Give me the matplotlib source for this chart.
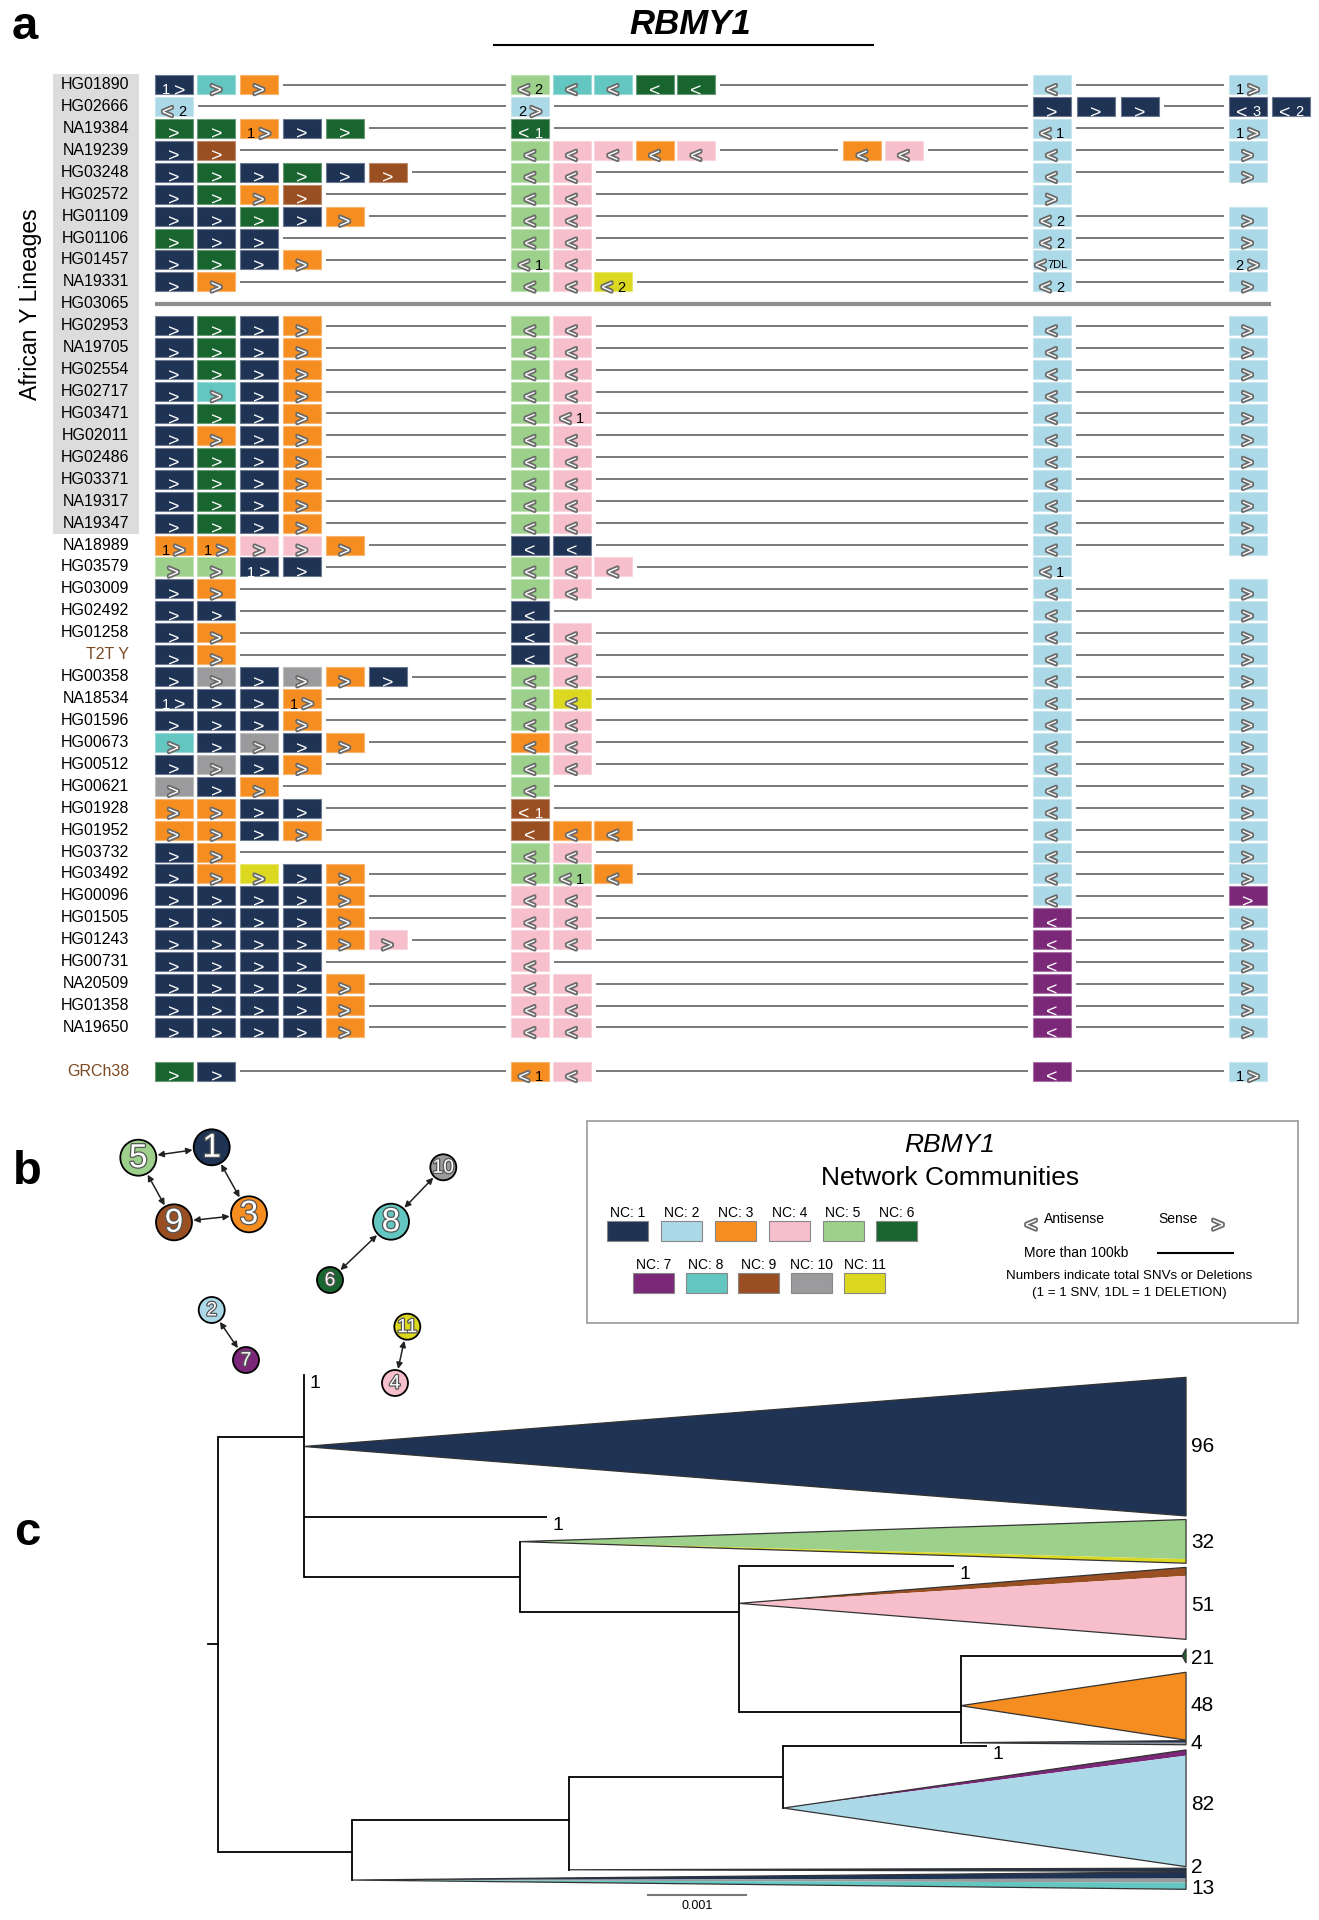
import matplotlib
matplotlib.use("Agg")
import matplotlib.pyplot as plt
import matplotlib.patheffects as pe
from matplotlib.patches import Rectangle, Circle, Polygon, FancyArrowPatch
from matplotlib.colors import to_rgb

plt.rcParams['font.family'] = ['Liberation Sans', 'DejaVu Sans']

W, H = 1319, 1920

# ---- network community colours ----
nc_colors = {1: '#1f3354', 2: '#acd9e7', 3: '#f68d20', 4: '#f6bfcb', 5: '#9dd18b', 6: '#19652f',
             7: '#7b2878', 8: '#63c6c0', 9: '#9a4f22', 10: '#9b9b9d', 11: '#dcd820'}
dark_nc = {1, 6, 7, 9}

# ---- panel a data: one token per box "<NC><direction><annotation>", "-" = gap ----
samples = ['HG01890', 'HG02666', 'NA19384', 'NA19239', 'HG03248', 'HG02572', 'HG01109', 'HG01106',
           'HG01457', 'NA19331', 'HG03065', 'HG02953', 'NA19705', 'HG02554', 'HG02717', 'HG03471',
           'HG02011', 'HG02486', 'HG03371', 'NA19317', 'NA19347', 'NA18989', 'HG03579', 'HG03009',
           'HG02492', 'HG01258', 'T2T Y', 'HG00358', 'NA18534', 'HG01596', 'HG00673', 'HG00512',
           'HG00621', 'HG01928', 'HG01952', 'HG03732', 'HG03492', 'HG00096', 'HG01505', 'HG01243',
           'HG00731', 'NA20509', 'HG01358', 'NA19650', 'GRCh38']
african = samples[:21]
brown_labels = ['T2T Y', 'GRCh38']
deleted = ['HG03065']

left_block = [
    "1>1 8> 3>", "2<2", "6> 6> 3>1 1> 6>", "1> 9>", "1> 6> 1> 6> 1> 9>", "1> 6> 3> 9>",
    "1> 1> 6> 1> 3>", "6> 1> 1>", "1> 6> 1> 3>", "1> 3>", "",
    "1> 6> 1> 3>", "1> 6> 1> 3>", "1> 6> 1> 3>", "1> 8> 1> 3>", "1> 6> 1> 3>",
    "1> 3> 1> 3>", "1> 6> 1> 3>", "1> 6> 1> 3>", "1> 6> 1> 3>", "1> 6> 1> 3>",
    "3>1 3>1 4> 4> 3>", "5> 5> 1>1 1>", "1> 3>", "1> 1>", "1> 3>", "1> 3>",
    "1> 10> 1> 10> 3> 1>", "1>1 1> 1> 3>1", "1> 1> 1> 3>", "8> 1> 10> 1> 3>", "1> 10> 1> 3>",
    "10> 1> 3>", "3> 3> 1> 1>", "3> 3> 1> 3>", "1> 3>", "1> 3> 11> 1> 3>",
    "1> 1> 1> 1> 3>", "1> 1> 1> 1> 3>", "1> 1> 1> 1> 3> 4>", "1> 1> 1> 1>",
    "1> 1> 1> 1> 3>", "1> 1> 1> 1> 3>", "1> 1> 1> 1> 3>", "6> 1>"]

mid_block = [
    "5<2 8< 8< 6< 6<", "2>2", "6<1", "5< 4< 4< 3< 4< - - - 3< 4<", "5< 4<", "5< 4<",
    "5< 4<", "5< 4<", "5<1 4<", "5< 4< 11<2", "",
    "5< 4<", "5< 4<", "5< 4<", "5< 4<", "5< 4<1",
    "5< 4<", "5< 4<", "5< 4<", "5< 4<", "5< 4<",
    "1< 1<", "5< 4< 4<", "5< 4<", "1<", "1< 4<", "1< 4<",
    "5< 4<", "5< 11<", "5< 4<", "3< 4<", "5< 4<",
    "5<", "9<1", "9< 3< 3<", "5< 4<", "5< 5<1 3<",
    "4< 4<", "4< 4<", "4< 4<", "4<",
    "4< 4<", "4< 4<", "4< 4<", "3<1 4<"]

right1_block = (["2<", "1> 1> 1>", "2<1", "2<", "2<", "2>", "2<2", "2<2", "2<7DL", "2<2", ""]
                + ["2<"] * 10 + ["2<", "2<1"] + ["2<"] * 14 + ["2<"] + ["7<"] * 6 + ["7<"])

right2_block = (["2>1", "1<3 1<2", "2>1", "2>", "2>", "", "2>", "2>", "2>2", "2>", ""]
                + ["2>"] * 10 + ["2>", ""] + ["2>"] * 14 + ["7>"] + ["2>"] * 6 + ["2>1"])

# ---- panel b data ----
nc_ids = list(range(1, 12))
network_edges = [(5, 1), (1, 3), (3, 9), (9, 5), (8, 10), (8, 6), (2, 7), (11, 4)]
big_nodes = [1, 3, 5, 8, 9]

# ---- panel c data: distances in units of 0.001 subst/site ----
node_names = ['root', 'A', 'B', 'C', 'D', 'E', 'F', 'G']
node_dist = [0.0, 0.875, 3.08, 5.32, 7.58, 1.37, 3.58, 5.77]
node_y = [52.4, 12.0, 39.2, 46.0, 65.5, 92.7, 86.6, 78.2]
node_parent = [None, 'root', 'A', 'B', 'C', 'root', 'E', 'F']

leaf_parent = ['A', 'A', 'C', 'G']
leaf_dist = [0.875, 3.36, 7.51, 7.85]
leaf_y = [0.0, 27.6, 37.1, 72.1]
leaf_label = ['1', '1', '1', '1']

clade_parent = ['A', 'B', 'C', 'D', 'D', 'D', 'G', 'F', 'E']
clade_count = [96, 32, 51, 21, 48, 4, 82, 2, 13]
clade_apex_y = [13.9, 32.4, 44.4, 54.6, 64.3, 71.5, 84.2, 96.2, 98.2]
clade_top = [0.45, 28.1, 37.4, 53.2, 57.8, 71.1, 72.9, 95.9, 96.6]
clade_bottom = [27.4, 36.6, 51.4, 56.0, 71.0, 71.9, 95.6, 96.5, 100.0]
clade_stem = [None, None, None, 9.84, None, None, None, None, None]
clade_mix = [[(1, 96)], [(5, 29), (11, 3)], [(9, 6), (4, 45)], [(6, 21)], [(3, 48)],
             [(1, 2), (10, 2)], [(7, 4), (2, 78)], [(1, 2)], [(1, 5), (10, 3), (8, 5)]]
clade_label_y = [13.9, 32.6, 44.9, 55.2, 64.3, 71.6, 83.6, 95.8, 99.8]
tip_dist = 9.88
scale_len = 1.0

# ================= figure =================
fig = plt.figure(figsize=(W / 100, H / 100), dpi=100)
ax = fig.add_axes([0, 0, 1, 1])
ax.set_xlim(0, W)
ax.set_ylim(H, 0)
ax.axis('off')


def lighten(c, f=0.35):
    r, g, b = to_rgb(c)
    return (r + (1 - r) * f, g + (1 - g) * f, b + (1 - b) * f)


def parse(block):
    out = []
    for tok in block.split():
        if tok == '-':
            out.append(None)
            continue
        i = 0
        while tok[i].isdigit():
            i += 1
        out.append((int(tok[:i]), tok[i], tok[i + 1:]))
    return out


row_y0, row_pitch = 84.5, 21.93
bw, bh = 38, 19
blocks = [(left_block, 154.5, 42.8), (mid_block, 511.0, 41.5),
          (right1_block, 1032.5, 44.3), (right2_block, 1228.6, 43.4)]
outline = [pe.withStroke(linewidth=2.6, foreground='#6a6a6a')]


def draw_box(xl, yc, nc, d, lab):
    col = nc_colors[nc]
    dark = nc in dark_nc
    ax.add_patch(Rectangle((xl, yc - bh / 2), bw, bh, fc=col, ec=lighten(col), lw=0.8))
    xc = xl + bw / 2
    akw = dict(color='white', fontsize=14, ha='center', va='center_baseline')
    if not dark:
        akw['path_effects'] = outline
    ncol = 'white' if dark else 'black'
    ya = yc + 5
    na = yc + 4.5
    if lab == '':
        ax.text(xc, ya, d, **akw)
    elif d == '>':
        ax.text(xc - 8, na, lab, color=ncol, fontsize=10.5, ha='center', va='center_baseline')
        ax.text(xc + 6, ya, d, **akw)
    elif len(lab) > 1:
        ax.text(xc - 11, ya, d, **akw)
        ax.text(xc + 6, na, lab, color=ncol, fontsize=8, ha='center', va='center_baseline')
    else:
        ax.text(xc - 6, ya, d, **akw)
        ax.text(xc + 8.5, na, lab, color=ncol, fontsize=10.5, ha='center', va='center_baseline')


# label background for African lineages
ax.add_patch(Rectangle((52.6, row_y0 - row_pitch / 2), 86.3, row_pitch * len(african),
                       fc='#dcdcdc', ec='none'))
ax.text(30.6, row_y0 + row_pitch * (len(african) - 1) / 2, 'African Y Lineages',
        rotation=90, ha='center', va='center', fontsize=16.5)

for i, name in enumerate(samples):
    r = i if name != 'GRCh38' else i + 1
    yc = row_y0 + r * row_pitch
    ax.text(129, yc, name, ha='right', va='center', fontsize=11.5,
            color='#7b4a23' if name in brown_labels else 'black')
    if name in deleted:
        ax.plot([154.5, 1271], [yc, yc], color='#8e8e8e', lw=3, solid_capstyle='butt')
        continue
    extents = []
    for blk, x0, pitch in blocks:
        for k, tok in enumerate(parse(blk[i])):
            if tok is None:
                continue
            xl = x0 + k * pitch
            draw_box(xl, yc, *tok)
            extents.append((xl, xl + bw))
    extents.sort()
    for (a0, a1), (b0, b1) in zip(extents[:-1], extents[1:]):
        if b0 - a1 > 12:
            ax.plot([a1 + 5, b0 - 5], [yc, yc], color='#7a7a7a', lw=1.4, solid_capstyle='butt')

# title
ax.text(690, 24.5, 'RBMY1', fontsize=25, fontweight='bold', fontstyle='italic',
        ha='center', va='center')
ax.plot([493.6, 873.2], [45.3, 45.3], color='black', lw=1.5)

for lbl, (lx, ly) in zip('abc', [(24.5, 27), (27, 1172), (27, 1533)]):
    ax.text(lx, ly, lbl, fontsize=34, fontweight='bold', ha='center', va='center')

# ================= panel b: network =================
node_pos = {5: (138.3, 1157.7), 1: (211.7, 1147.3), 3: (249.0, 1214.3), 9: (174.0, 1222.3),
            8: (391.0, 1221.7), 10: (443.3, 1167.3), 6: (330.0, 1280.0), 2: (211.7, 1310.0),
            7: (246.0, 1360.0), 11: (407.3, 1326.7), 4: (395.0, 1383.0)}


def node_r(n):
    return 18 if n in big_nodes else 13


for a, b in network_edges:
    arr = FancyArrowPatch(node_pos[a], node_pos[b], arrowstyle='<|-|>', mutation_scale=9,
                          color='#222222', lw=1.1,
                          shrinkA=node_r(a) * 0.72 + 1, shrinkB=node_r(b) * 0.72 + 1)
    ax.add_patch(arr)

for n in nc_ids:
    x, y = node_pos[n]
    ax.add_patch(Circle((x, y), node_r(n), fc=nc_colors[n], ec='black', lw=1.3, zorder=3))
    ax.text(x, y + 1, str(n), fontsize=24 if n in big_nodes else 14, color='white',
            ha='center', va='center', zorder=4,
            path_effects=[pe.withStroke(linewidth=1.8, foreground='#555555')])

# legend box
ax.add_patch(Rectangle((586.6, 1120.6), 711.4, 202.1, fc='white', ec='#9a9a9a', lw=1.2))
ax.text(950, 1145, 'RBMY1', fontsize=19, fontstyle='italic', ha='center', va='center')
ax.text(950, 1178, 'Network Communities', fontsize=19, ha='center', va='center')
for j, n in enumerate(nc_ids):
    if n <= 6:
        sx, sy = 607.4 + j * 53.8, 1221
    else:
        sx, sy = 632.8 + (j - 6) * 52.8, 1273
    ax.add_patch(Rectangle((sx, sy), 41, 20, fc=nc_colors[n], ec='#888888', lw=0.8))
    ax.text(sx + 20.5, sy - 8, 'NC: %d' % n, fontsize=10, ha='center', va='center')

ax.text(1031, 1224, '<', fontsize=15, color='white', ha='center', va='center_baseline',
        path_effects=outline)
ax.text(1044, 1219, 'Antisense', fontsize=10, ha='left', va='center')
ax.text(1198, 1219, 'Sense', fontsize=10, ha='right', va='center')
ax.text(1218, 1224, '>', fontsize=15, color='white', ha='center', va='center_baseline',
        path_effects=outline)
ax.text(1024, 1253, 'More than 100kb', fontsize=10, ha='left', va='center')
ax.plot([1158, 1233], [1253, 1253], color='black', lw=1.5)
ax.text(1129.5, 1275.7, 'Numbers indicate total SNVs or Deletions', fontsize=9.6,
        ha='center', va='center')
ax.text(1129.5, 1292.7, '(1 = 1 SNV, 1DL = 1 DELETION)', fontsize=9.6, ha='center', va='center')

# ================= panel c: tree =================
kx, x0px = 98.0, 217.8
ky, y0px = 5.143, 1375.0
axc = fig.add_axes([0, 0, 1, 1], facecolor='none')
axc.set_xlim(-x0px / kx, (W - x0px) / kx)
axc.set_ylim((H - y0px) / ky, -y0px / ky)
axc.axis('off')

nd = {n: (d, y) for n, d, y in zip(node_names, node_dist, node_y)}
child_y = {n: [] for n in node_names}
for n, p in zip(node_names, node_parent):
    if p:
        child_y[p].append(nd[n][1])
        axc.plot([nd[p][0], nd[n][0]], [nd[n][1], nd[n][1]], color='black', lw=1.3,
                 solid_capstyle='butt')
for p, d, y, lab in zip(leaf_parent, leaf_dist, leaf_y, leaf_label):
    child_y[p].append(y)
    axc.plot([nd[p][0], d], [y, y], color='black', lw=1.3, solid_capstyle='butt')
    axc.text(d + 0.06, y + 1.6, lab, fontsize=14, ha='left', va='center')
for p, ay in zip(clade_parent, clade_apex_y):
    child_y[p].append(ay)
for n in node_names:
    ys = child_y[n]
    axc.plot([nd[n][0], nd[n][0]], [min(ys), max(ys)], color='black', lw=1.3)
# root stub
axc.plot([-0.104, 0], [nd['root'][1], nd['root'][1]], color='black', lw=1.3)

for p, cnt, ay, top, bot, stem, mix, ly in zip(clade_parent, clade_count, clade_apex_y,
                                                  clade_top, clade_bottom, clade_stem,
                                                  clade_mix, clade_label_y):
    ax0 = nd[p][0]
    if stem is not None:
        axc.plot([ax0, stem], [ay, ay], color='black', lw=1.3, solid_capstyle='butt')
        ax0 = stem
    total = sum(c for _, c in mix)
    yy = top
    for nc, c in mix:
        y2 = yy + (bot - top) * c / total
        axc.add_patch(Polygon([(ax0, ay), (tip_dist, yy), (tip_dist, y2)], closed=True,
                              fc=nc_colors[nc], ec='none'))
        yy = y2
    axc.add_patch(Polygon([(ax0, ay), (tip_dist, top), (tip_dist, bot)], closed=True,
                          fc='none', ec='#333333', lw=0.9))
    axc.text(tip_dist + 0.05, ly, str(cnt), fontsize=15, ha='left', va='center')

# scale bar
sb_x = (648.4 - x0px) / kx
sb_y = (1895 - y0px) / ky
axc.plot([sb_x, sb_x + scale_len], [sb_y, sb_y], color='#777777', lw=1.5)
axc.text(sb_x + scale_len / 2, sb_y + 2.1, '0.001', fontsize=9, ha='center', va='center')

fig.savefig('out.png', dpi=100)
